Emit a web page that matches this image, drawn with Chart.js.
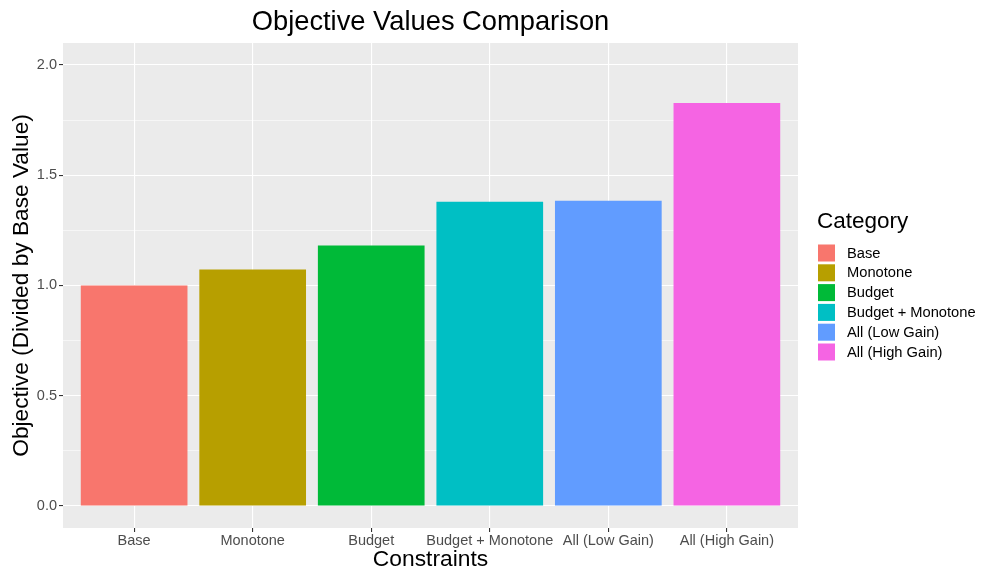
<!DOCTYPE html>
<html>
<head>
<meta charset="utf-8">
<script src="https://cdn.jsdelivr.net/npm/chart.js@4/dist/chart.umd.min.js"></script>
<style>
  body { margin: 0; background: #ffffff; }
  #wrap { width: 982px; height: 573px; }
</style>
</head>
<body>
<div id="wrap"><canvas id="objectiveChart" width="982" height="573"></canvas></div>
<script>
const categories = ["Base", "Monotone", "Budget", "Budget + Monotone", "All (Low Gain)", "All (High Gain)"];
const objectiveValues = [1.0, 1.072, 1.181, 1.380, 1.384, 1.828];
const barColors = ["#F8766D", "#B79F00", "#00BA38", "#00BFC4", "#619CFF", "#F564E3"];
const yTicks = [0, 0.25, 0.5, 0.75, 1.0, 1.25, 1.5, 1.75, 2.0];
const yMajorTicks = [0, 0.5, 1.0, 1.5, 2.0];

const FONT = "'Liberation Sans', Arial, Helvetica, sans-serif";
const isMajor = v => yMajorTicks.some(m => Math.abs(m - v) < 1e-9);

// grey panel like ggplot's theme_gray
const panelBackground = {
    id: "panelBackground",
    beforeDraw(chart) {
        const { ctx, chartArea } = chart;
        ctx.save();
        ctx.fillStyle = "#EBEBEB";
        ctx.fillRect(chartArea.left, chartArea.top, chartArea.right - chartArea.left, chartArea.bottom - chartArea.top);
        ctx.restore();
    }
};

// legend drawn to the right of the panel, one key per category
const categoryLegend = {
    id: "categoryLegend",
    afterDraw(chart) {
        const { ctx } = chart;
        const x = 817;
        ctx.save();
        ctx.fillStyle = "#000000";
        ctx.textBaseline = "middle";
        ctx.textAlign = "left";
        ctx.font = "22.5px " + FONT;
        ctx.fillText("Category", x, 222);
        ctx.font = "14.7px " + FONT;
        categories.forEach((label, i) => {
            const cy = 253 + i * 19.8;
            ctx.fillStyle = barColors[i];
            ctx.fillRect(x + 1, cy - 8.5, 17, 17);
            ctx.fillStyle = "#000000";
            ctx.fillText(label, x + 30, cy + 0.5);
        });
        ctx.restore();
    }
};

const ctx = document.getElementById("objectiveChart").getContext("2d");
new Chart(ctx, {
    type: "bar",
    data: {
        datasets: [{
            label: "Objective",
            data: objectiveValues.map((v, i) => ({ x: i + 1, y: v })),
            backgroundColor: barColors,
            borderWidth: 0,
            barPercentage: 0.9,
            categoryPercentage: 1.0
        }]
    },
    options: {
        responsive: false,
        animation: false,
        layout: { padding: { left: 0, right: 184, top: 0, bottom: 0 } },
        plugins: {
            legend: { display: false },
            tooltip: { enabled: false },
            title: {
                display: true,
                text: "Objective Values Comparison",
                fullSize: false,
                color: "#000000",
                font: { family: FONT, size: 27.3, weight: "normal", lineHeight: 1.2 },
                padding: { top: 6.5, bottom: 3.7 }
            }
        },
        scales: {
            x: {
                type: "linear",
                min: 0.4,
                max: 6.6,
                offset: false,
                afterBuildTicks(scale) {
                    scale.ticks = categories.map((c, i) => ({ value: i + 1 }));
                },
                afterFit(scale) { scale.height = 45; },
                ticks: {
                    callback: v => categories[Math.round(v) - 1] || "",
                    color: "#4D4D4D",
                    font: { family: FONT, size: 14.5 },
                    padding: 0,
                    maxRotation: 0,
                    autoSkip: false
                },
                grid: {
                    offset: false,
                    color: "#FFFFFF",
                    lineWidth: 1.1,
                    tickLength: 4,
                    tickColor: "#333333",
                    drawOnChartArea: true
                },
                border: { display: false },
                title: {
                    display: true,
                    text: "Constraints",
                    color: "#000000",
                    font: { family: FONT, size: 22.8, lineHeight: 1.2 },
                    padding: { top: 0, bottom: 0 }
                }
            },
            y: {
                min: -0.1,
                max: 2.1,
                afterBuildTicks(scale) {
                    scale.ticks = yTicks.map(v => ({ value: v }));
                },
                afterFit(scale) { scale.width = 63; },
                ticks: {
                    callback: v => isMajor(v) ? v.toFixed(1) : "",
                    color: "#4D4D4D",
                    font: { family: FONT, size: 14.5 },
                    padding: 2,
                    autoSkip: false
                },
                grid: {
                    color: "#FFFFFF",
                    lineWidth: c => isMajor(c.tick.value) ? 1.1 : 0.55,
                    tickLength: 4,
                    tickColor: c => isMajor(c.tick.value) ? "#333333" : "rgba(0,0,0,0)"
                },
                border: { display: false },
                title: {
                    display: true,
                    text: "Objective (Divided by Base Value)",
                    color: "#000000",
                    font: { family: FONT, size: 22.7, lineHeight: 1.2 },
                    padding: { top: 8, bottom: 0 }
                }
            }
        }
    },
    plugins: [panelBackground, categoryLegend]
});
</script>
</body>
</html>
